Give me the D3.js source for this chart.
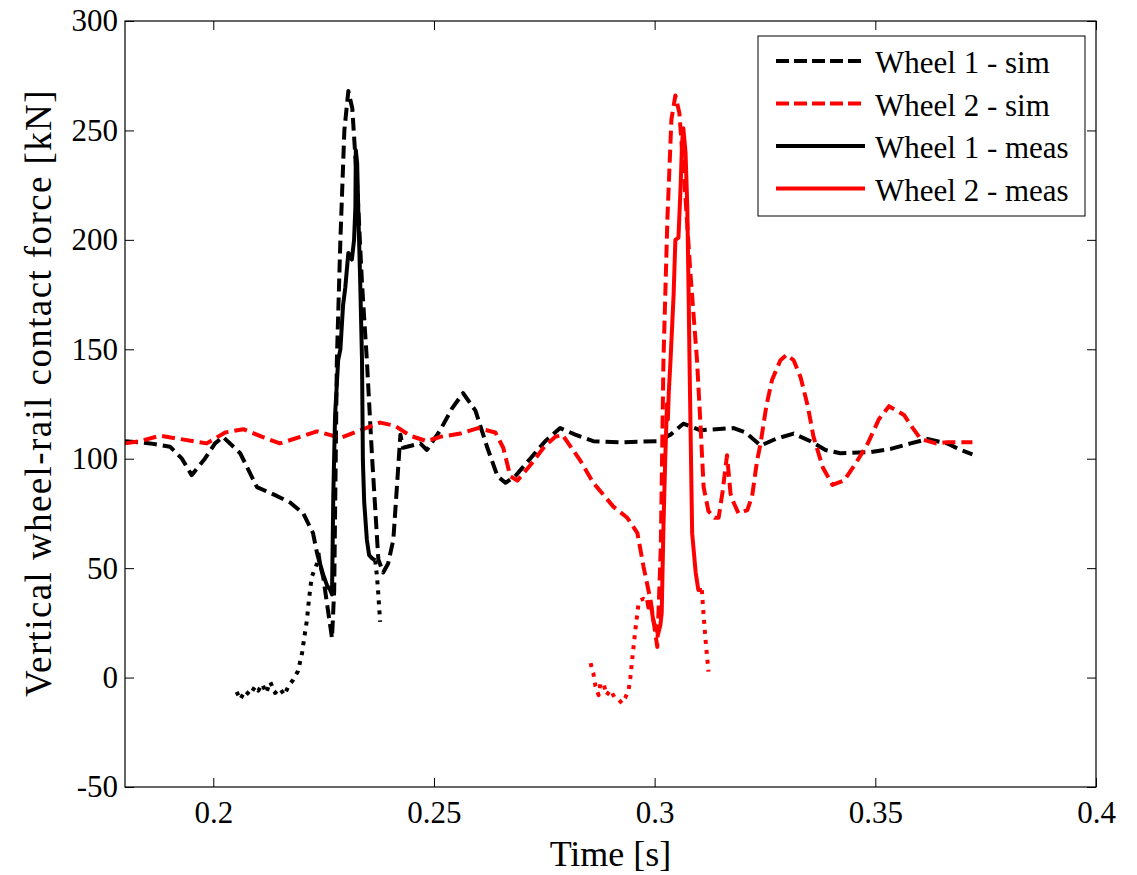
<!DOCTYPE html>
<html>
<head>
<meta charset="utf-8">
<script src="https://cdn.jsdelivr.net/npm/d3@7"></script>
<style>
  body { margin: 0; background: #fff; }
  svg text { font-family: "Liberation Serif", "Times New Roman", serif !important; fill: #000; }
</style>
</head>
<body>
<svg id="chart" width="1137" height="875"></svg>
<script>
// Vertical wheel-rail contact force, [time s, force kN]
const wheel1Sim = [
  [0.1800, 108], [0.1857, 107], [0.1902, 105.5], [0.1929, 100], [0.1951, 92.5], [0.1981, 100],
  [0.2004, 107], [0.2022, 110], [0.2061, 102.5], [0.2099, 87], [0.2144, 83], [0.2174, 80],
  [0.2204, 75], [0.2226, 66], [0.2235, 57], [0.2249, 46], [0.2269, 18], [0.2274, 40],
  [0.2280, 145], [0.2288, 200], [0.2297, 250], [0.2306, 268], [0.2315, 260], [0.2326, 225],
  [0.2337, 180], [0.2348, 145], [0.2360, 100], [0.2374, 54], [0.2385, 48], [0.2396, 52],
  [0.2408, 63], [0.2417, 90], [0.2424, 111], [0.2430, 105], [0.2469, 107], [0.2484, 104],
  [0.2514, 113], [0.2541, 123], [0.2566, 130], [0.2594, 122], [0.2621, 105], [0.2644, 92],
  [0.2662, 89], [0.2684, 92], [0.2718, 100], [0.2752, 108], [0.2786, 114], [0.2820, 111],
  [0.2861, 108], [0.2922, 107.5], [0.3006, 108], [0.3036, 111], [0.3065, 116], [0.3104, 113],
  [0.3179, 114], [0.3206, 112], [0.3240, 106], [0.3274, 109], [0.3315, 111.5], [0.3353, 108],
  [0.3387, 104], [0.3421, 102.5], [0.3489, 103], [0.3535, 104.5], [0.3580, 107], [0.3618, 109],
  [0.3663, 107], [0.3693, 104], [0.3720, 102]
];

const wheel2Sim = [
  [0.1800, 107], [0.1834, 108], [0.1879, 110.5], [0.1925, 109], [0.1985, 107], [0.2027, 112],
  [0.2068, 113.5], [0.2111, 110], [0.2151, 107], [0.2197, 110], [0.2235, 112.5], [0.2288, 109.5],
  [0.2333, 113], [0.2378, 116.5], [0.2412, 115], [0.2446, 110.5], [0.2484, 108], [0.2514, 110],
  [0.2560, 111.5], [0.2600, 114], [0.2639, 112], [0.2657, 105], [0.2673, 92], [0.2689, 90],
  [0.2718, 97], [0.2752, 106], [0.2775, 110], [0.2791, 111], [0.2832, 99], [0.2861, 89],
  [0.2907, 78], [0.2938, 73], [0.2961, 66], [0.2975, 50.5], [0.2991, 35], [0.3006, 14],
  [0.3014, 60], [0.3020, 145], [0.3029, 210], [0.3038, 255], [0.3047, 266], [0.3056, 258],
  [0.3068, 225], [0.3081, 185], [0.3096, 145], [0.3104, 115], [0.3111, 87], [0.3122, 76],
  [0.3136, 73], [0.3145, 73], [0.3154, 85], [0.3164, 101.6], [0.3172, 84], [0.3179, 80],
  [0.3190, 75], [0.3210, 76.5], [0.3221, 83], [0.3232, 99], [0.3240, 107], [0.3253, 124],
  [0.3266, 136], [0.3285, 145], [0.3299, 147.5], [0.3315, 145], [0.3331, 137], [0.3347, 124],
  [0.3360, 110], [0.3381, 96], [0.3403, 88], [0.3429, 90], [0.3456, 98], [0.3483, 107],
  [0.3508, 118], [0.3531, 124], [0.3565, 120], [0.3585, 114], [0.3603, 109], [0.3637, 107],
  [0.3663, 107.5], [0.3693, 107.5], [0.3720, 107.5]
];

// measured signals: leading part, main part, trailing part
const wheel1MeasPre = [
  [0.2053, -6.5], [0.2061, -10], [0.2072, -6], [0.2083, -8], [0.2095, -4], [0.2102, -6],
  [0.2111, -3], [0.2120, -7], [0.2129, -2], [0.2140, -7], [0.2151, -5], [0.2161, -8],
  [0.2170, -4], [0.2181, -1], [0.2192, 3], [0.2201, 11], [0.2206, 18], [0.2212, 26],
  [0.2217, 36], [0.2223, 46], [0.2235, 52], [0.2238, 57]
];
const wheel1Meas = [
  [0.2238, 57], [0.2242, 52], [0.2249, 47], [0.2258, 42], [0.2265, 40], [0.2269, 38],
  [0.2272, 84], [0.2276, 120], [0.2283, 145], [0.2288, 150], [0.2294, 170], [0.2299, 178],
  [0.2306, 194], [0.2314, 191], [0.2319, 200], [0.2322, 215], [0.2323, 241], [0.2326, 235],
  [0.2329, 210], [0.2333, 180], [0.2337, 145], [0.2339, 99], [0.2342, 80], [0.2348, 63],
  [0.2353, 56], [0.2360, 54.5], [0.2367, 53.5]
];
const wheel1MeasPost = [
  [0.2367, 53.5], [0.2371, 46], [0.2374, 38], [0.2378, 25.5]
];

const wheel2MeasPre = [
  [0.2855, 6.6], [0.2859, 3], [0.2861, 2], [0.2866, -4], [0.2873, -8], [0.2877, -3],
  [0.2884, -2.5], [0.2891, -8], [0.2900, -5.7], [0.2909, -9], [0.2918, -10], [0.2926, -11.7],
  [0.2934, -9], [0.2941, -5.7], [0.2945, 0], [0.2949, 8], [0.2957, 23], [0.2963, 33],
  [0.2968, 35.4], [0.2975, 36], [0.2983, 35.4]
];
const wheel2Meas = [
  [0.2983, 35.4], [0.2986, 32], [0.2991, 34], [0.2997, 26], [0.3004, 22], [0.3008, 20],
  [0.3013, 24], [0.3016, 29.5], [0.3020, 69], [0.3024, 100], [0.3028, 125], [0.3030, 118],
  [0.3032, 130], [0.3036, 145], [0.3043, 175], [0.3047, 200], [0.3054, 201], [0.3059, 225],
  [0.3062, 244], [0.3065, 251], [0.3070, 240], [0.3074, 215], [0.3077, 175], [0.3079, 145],
  [0.3085, 66], [0.3093, 48], [0.3099, 40], [0.3107, 40]
];
const wheel2MeasPost = [
  [0.3107, 40], [0.3110, 31], [0.3115, 18], [0.3122, 2.7]
];

const xTicks = [0.2, 0.25, 0.3, 0.35, 0.4];
const yTicks = [-50, 0, 50, 100, 150, 200, 250, 300];
const legendLabels = ['Wheel 1 - sim', 'Wheel 2 - sim', 'Wheel 1 - meas', 'Wheel 2 - meas'];

// layout
const margin = { top: 21, right: 41, bottom: 88, left: 125 };
const W = 1137, H = 875;
const width = W - margin.left - margin.right;
const height = H - margin.top - margin.bottom;
const FONT = '"Liberation Serif", "Times New Roman", serif';

const svg = d3.select('#chart');
const g = svg.append('g').attr('transform', `translate(${margin.left},${margin.top})`);

const x = d3.scaleLinear().domain([0.18, 0.4]).range([0, width]);
const y = d3.scaleLinear().domain([-50, 300]).range([height, 0]);

const line = d3.line().x(d => x(d[0])).y(d => y(d[1]));

const DASH = '13,6';
const DOT = '4,6';
const LW = 4;

function drawLine(data, color, dash) {
  g.append('path')
    .datum(data)
    .attr('fill', 'none')
    .attr('stroke', color)
    .attr('stroke-width', LW)
    .attr('stroke-linejoin', 'round')
    .attr('stroke-dasharray', dash)
    .attr('d', line);
}

drawLine(wheel1Sim, '#000', DASH);
drawLine(wheel2Sim, '#f00', DASH);
drawLine(wheel1MeasPre, '#000', DOT);
drawLine(wheel1Meas, '#000', null);
drawLine(wheel1MeasPost, '#000', DOT);
drawLine(wheel2MeasPre, '#f00', DOT);
drawLine(wheel2Meas, '#f00', null);
drawLine(wheel2MeasPost, '#f00', DOT);

// axes with inward ticks, mirrored on all sides
const TICK = 9;
function styleAxis(sel) {
  sel.attr('font-family', FONT).attr('font-size', 31);
  sel.select('.domain').remove();
  sel.selectAll('.tick line').attr('stroke', '#000').attr('stroke-width', 1);
  sel.selectAll('.tick text').style('font-family', FONT).attr('font-size', 31);
}
const fmt = d => String(d);

g.append('g')
  .attr('transform', `translate(0,${height})`)
  .call(d3.axisBottom(x).tickValues(xTicks).tickSize(-TICK).tickPadding(14).tickFormat(fmt))
  .call(styleAxis);
g.append('g')
  .call(d3.axisTop(x).tickValues(xTicks).tickSize(-TICK).tickFormat(''))
  .call(styleAxis);
g.append('g')
  .call(d3.axisLeft(y).tickValues(yTicks).tickSize(-TICK).tickPadding(7).tickFormat(fmt))
  .call(styleAxis);
g.append('g')
  .attr('transform', `translate(${width},0)`)
  .call(d3.axisRight(y).tickValues(yTicks).tickSize(-TICK).tickFormat(''))
  .call(styleAxis);

g.append('rect')
  .attr('width', width).attr('height', height)
  .attr('fill', 'none').attr('stroke', '#000').attr('stroke-width', 1.2);

// axis titles
svg.append('text')
  .attr('x', margin.left + width / 2)
  .attr('y', 866)
  .attr('text-anchor', 'middle')
  .attr('font-size', 36)
  .text('Time [s]');

svg.append('text')
  .attr('transform', 'translate(51,393) rotate(-90)')
  .attr('text-anchor', 'middle')
  .attr('font-size', 37)
  .attr('letter-spacing', 1.4)
  .text('Vertical wheel-rail contact force [kN]');

// legend
const legend = svg.append('g').attr('transform', 'translate(758,36)');
legend.append('rect')
  .attr('width', 327).attr('height', 180)
  .attr('fill', '#fff').attr('stroke', '#000').attr('stroke-width', 1);

const legendStyles = [
  { color: '#000', dash: '13,5' },
  { color: '#f00', dash: '13,5' },
  { color: '#000', dash: null },
  { color: '#f00', dash: null }
];
legendLabels.forEach((label, i) => {
  const row = legend.append('g').attr('transform', `translate(0,${25 + i * 42.5})`);
  row.append('line')
    .attr('x1', 18).attr('x2', 107)
    .attr('stroke', legendStyles[i].color)
    .attr('stroke-width', LW)
    .attr('stroke-dasharray', legendStyles[i].dash);
  row.append('text')
    .attr('x', 117).attr('y', 12)
    .attr('font-size', 31)
    .text(label);
});
</script>
</body>
</html>
